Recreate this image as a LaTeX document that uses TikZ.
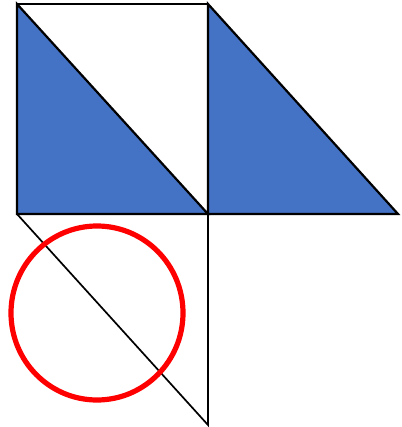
\documentclass[tikz,border=0pt]{standalone}
\definecolor{fillblue}{HTML}{4472C4}
\definecolor{ringred}{HTML}{FF0000}
\tikzset{
  edge/.style={draw=black, line width=2.2pt, line join=miter},
  thinedge/.style={draw=black, line width=1.7pt},
  tri/.style={fill=fillblue, draw=black, line width=2.2pt, line join=miter},
  ring/.style={draw=ringred, line width=5.2pt}
}
\begin{document}
\begin{tikzpicture}[x=1pt,y=-1pt]
\useasboundingbox (0,0) rectangle (401,427);
\coordinate (A) at (17,4);
\coordinate (B) at (208,4);
\coordinate (C) at (17,214);
\coordinate (D) at (208,214);
\coordinate (E) at (398,214);
\coordinate (F) at (208,425);
\coordinate (O) at (97,313);
% lower triangle outline
\draw[thinedge] (C) -- (F) -- (D);
% left blue triangle
\draw[tri] (A) -- (C) -- (D) -- cycle;
% right blue triangle
\draw[tri] (B) -- (D) -- (E) -- cycle;
% square
\draw[edge] (A) -- (B) -- (D) -- (C) -- cycle;
% red circle
\draw[ring] (O) ellipse [x radius=86, y radius=87];
\end{tikzpicture}
\end{document}
